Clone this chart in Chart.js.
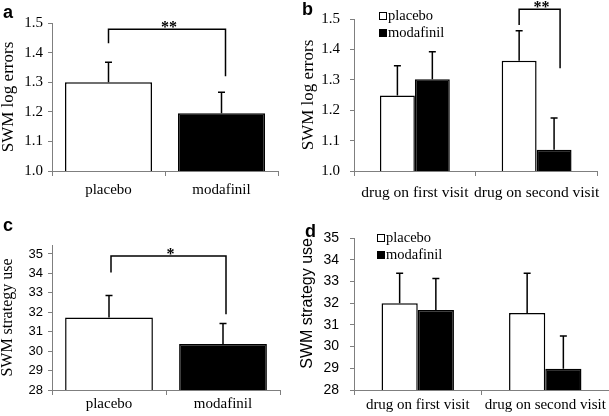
<!DOCTYPE html>
<html><head><meta charset="utf-8">
<script src="https://cdn.jsdelivr.net/npm/chart.js@4/dist/chart.umd.min.js"></script>
<style>
html,body{margin:0;padding:0;background:#fff;}
#wrap{position:relative;width:609px;height:416px;overflow:hidden;background:#fff;}
canvas{position:absolute;}
.lbl{position:absolute;font:bold 18px 'Liberation Sans',Arial,sans-serif;line-height:18px;color:#000;}
</style></head><body>
<div id="wrap">
<canvas id="ca" width="300" height="205" style="left:0;top:0"></canvas>
<canvas id="cb" width="309" height="205" style="left:300px;top:0"></canvas>
<canvas id="cc" width="300" height="211" style="left:0;top:205px"></canvas>
<canvas id="cd" width="309" height="211" style="left:300px;top:205px"></canvas>
<div class="lbl" style="left:3px;top:3px">a</div>
<div class="lbl" style="left:302px;top:0px">b</div>
<div class="lbl" style="left:3px;top:216px">c</div>
<div class="lbl" style="left:305px;top:222px">d</div>
</div>
<script>
// ---- data ----
const drugLabels = ['placebo', 'modafinil'];
const visitLabels = ['drug on first visit', 'drug on second visit'];
const seriesNames = ['placebo', 'modafinil'];

const errorsMean = [1.300, 1.195];
const errorsSem = [0.067, 0.071];
const errorsBracket = [1.479, 1.432, 1.320];   // top, left end, right end

const errorsPlaceboByVisit = [1.248, 1.363];
const errorsPlaceboSemByVisit = [0.098, 0.098];
const errorsModafinilByVisit = [1.302, 1.070];
const errorsModafinilSemByVisit = [0.090, 0.104];
const errorsVisitBracket = [1.532, 1.480, 1.338];

const strategyMean = [31.73, 30.37];
const strategySem = [1.13, 1.05];
const strategyBracket = [34.90, 34.05, 31.90];

const strategyPlaceboByVisit = [32.00, 31.55];
const strategyPlaceboSemByVisit = [1.38, 1.83];
const strategyModafinilByVisit = [31.68, 28.98];
const strategyModafinilSemByVisit = [1.46, 1.51];

const errorTickValues = [1.0, 1.1, 1.2, 1.3, 1.4, 1.5];
const strategyTickValues = [28, 29, 30, 31, 32, 33, 34, 35];

// ---- styles ----
const SERIF = "'Liberation Serif','Times New Roman',serif";
const SANS = "'Liberation Sans',Arial,sans-serif";
const AX = '#7f7f7f';

const extras = {
  id: 'extras',
  afterDraw(chart, args, o) {
    const ctx = chart.ctx, ys = chart.scales.y, ca = chart.chartArea;
    ctx.save();
    ctx.strokeStyle = '#000';
    ctx.fillStyle = '#000';
    ctx.lineWidth = 1.5;
    // error bars (upper only)
    chart.data.datasets.forEach((ds, i) => {
      const meta = chart.getDatasetMeta(i);
      meta.data.forEach((bar, j) => {
        const top = ys.getPixelForValue(ds.data[j] + ds.sem[j]);
        ctx.beginPath();
        ctx.moveTo(bar.x, bar.y);
        ctx.lineTo(bar.x, top);
        ctx.moveTo(bar.x - 3.5, top);
        ctx.lineTo(bar.x + 3.5, top);
        ctx.stroke();
      });
    });
    // significance bracket
    if (o.bracket) {
      const b = o.bracket;
      const xl = chart.getDatasetMeta(b.from[0]).data[b.from[1]].x + b.dx[0];
      const xr = chart.getDatasetMeta(b.to[0]).data[b.to[1]].x + b.dx[1];
      const yt = ys.getPixelForValue(b.values[0]);
      const yl = ys.getPixelForValue(b.values[1]);
      const yr = ys.getPixelForValue(b.values[2]);
      ctx.beginPath();
      ctx.moveTo(xl, yl); ctx.lineTo(xl, yt); ctx.lineTo(xr, yt); ctx.lineTo(xr, yr);
      ctx.stroke();
      ctx.font = 'bold 16px ' + SERIF;
      ctx.textAlign = 'center';
      ctx.textBaseline = 'alphabetic';
      ctx.fillText(b.label, (xl + xr) / 2 + 2, yt + 3);
    }
    // in-plot legend
    if (o.legend) {
      const L = o.legend;
      ctx.font = '14.5px ' + SERIF;
      ctx.textAlign = 'left';
      ctx.textBaseline = 'middle';
      ctx.lineWidth = 1;
      chart.data.datasets.forEach((ds, i) => {
        const x = ca.left + L.dx, y = ca.top + L.dy[i];
        ctx.fillStyle = ds.backgroundColor;
        ctx.fillRect(x, y - 4, 8, 8);
        ctx.strokeStyle = '#000';
        ctx.strokeRect(x + 0.5, y - 3.5, 7, 7);
        ctx.fillStyle = '#000';
        ctx.fillText(ds.label, x + 9, y + 0.5);
      });
    }
    ctx.restore();
  }
};

function bar(label, data, sem, color, bp, cp) {
  return {label, data, sem, backgroundColor: color, borderColor: '#000', borderWidth: 1.5,
          barPercentage: bp, categoryPercentage: cp};
}

function build(id, p) {
  const tv = p.tickValues;
  new Chart(document.getElementById(id), {
    type: 'bar',
    data: {labels: p.labels, datasets: p.datasets},
    options: {
      responsive: false, animation: false,
      layout: {padding: {top: p.top, right: p.right, left: 0, bottom: 0}},
      plugins: {legend: {display: false}, tooltip: {enabled: false},
                extras: {bracket: p.bracket, legend: p.legend}},
      scales: {
        x: {
          grid: {drawOnChartArea: false, color: AX, tickLength: 5, lineWidth: 1},
          border: {color: AX, width: 1},
          ticks: {color: '#000', font: {family: SERIF, size: p.xSize}, padding: p.xPad,
                  maxRotation: 0, autoSkip: false},
          afterFit: s => { s.height = p.xH; }
        },
        y: {
          min: tv[0], max: p.yMax || tv[tv.length - 1],
          grid: {drawOnChartArea: false, color: AX, tickLength: 4, lineWidth: 1},
          border: {color: AX, width: 1},
          ticks: {color: '#000',
                  font: {family: p.yFont, size: p.ySize}, padding: p.yPad,
                  callback: v => p.dec ? Number(v).toFixed(p.dec) : String(v)},
          afterBuildTicks: s => { s.ticks = tv.map(v => ({value: v})); },
          title: {display: true, text: p.yTitle, color: '#000', padding: 0,
                  align: p.titleAlign || 'center',
                  font: {family: p.titleFont, size: p.titleSize, lineHeight: 1}},
          afterFit: s => { s.width = p.yW; }
        }
      }
    },
    plugins: [extras]
  });
}

build('ca', {
  labels: drugLabels,
  datasets: [bar('mean', errorsMean, errorsSem, ['#ffffff', '#000000'], 0.77, 1)],
  tickValues: errorTickValues, dec: 1,
  top: 23, right: 22, yW: 52, xH: 34, yPad: 5, xPad: 5, xSize: 15,
  yFont: SERIF, ySize: 15, titleFont: SERIF, titleSize: 17, yTitle: 'SWM log errors',
  bracket: {from: [0, 0], to: [0, 1], dx: [0, 4], values: errorsBracket, label: '**'}
});

build('cb', {
  labels: visitLabels,
  datasets: [
    bar(seriesNames[0], errorsPlaceboByVisit, errorsPlaceboSemByVisit, '#ffffff', 1, 0.574),
    bar(seriesNames[1], errorsModafinilByVisit, errorsModafinilSemByVisit, '#000000', 1, 0.574)
  ],
  tickValues: errorTickValues, dec: 1,
  top: 19, right: 7, yW: 54, xH: 34, yPad: 10, xPad: 8, xSize: 15.5,
  yFont: SERIF, ySize: 15, titleFont: SERIF, titleSize: 17, yTitle: 'SWM log errors',
  bracket: {from: [0, 1], to: [1, 1], dx: [0, 6], values: errorsVisitBracket, label: '**'},
  legend: {dx: 25, dy: [-3, 14]}
});

build('cc', {
  labels: drugLabels,
  datasets: [bar('mean', strategyMean, strategySem, ['#ffffff', '#000000'], 0.77, 1)],
  tickValues: strategyTickValues, yMax: 35.46,
  top: 40, right: 20, yW: 52, xH: 26, yPad: 5, xPad: 0, xSize: 15,
  yFont: SANS, ySize: 13, titleFont: SERIF, titleSize: 16, yTitle: 'SWM strategy use',
  bracket: {from: [0, 0], to: [0, 1], dx: [2, 3], values: strategyBracket, label: '*'}
});

build('cd', {
  labels: visitLabels,
  datasets: [
    bar(seriesNames[0], strategyPlaceboByVisit, strategyPlaceboSemByVisit, '#ffffff', 1, 0.568),
    bar(seriesNames[1], strategyModafinilByVisit, strategyModafinilSemByVisit, '#000000', 1, 0.568)
  ],
  tickValues: strategyTickValues,
  top: 33, right: 0, yW: 54, xH: 26, yPad: 11, xPad: 1, xSize: 15,
  yFont: SANS, ySize: 14, titleFont: SANS, titleSize: 16, titleAlign: 'end', yTitle: 'SWM strategy use',
  legend: {dx: 23, dy: [0, 17]}
});
</script>
</body></html>
